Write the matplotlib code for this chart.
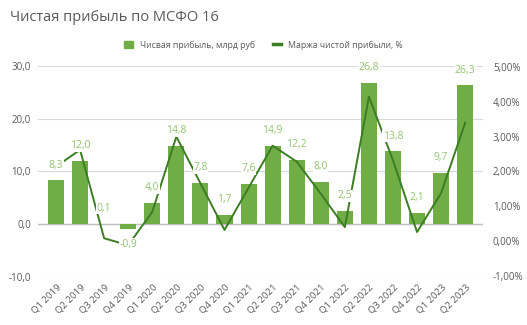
import numpy as np
import matplotlib.pyplot as plt
from matplotlib.ticker import FuncFormatter, MultipleLocator
from matplotlib.patches import Patch
from matplotlib.lines import Line2D

plt.rcParams['font.family'] = ['Open Sans', 'DejaVu Sans']

quarters = ['Q1 2019', 'Q2 2019', 'Q3 2019', 'Q4 2019', 'Q1 2020', 'Q2 2020',
            'Q3 2020', 'Q4 2020', 'Q1 2021', 'Q2 2021', 'Q3 2021', 'Q4 2021',
            'Q1 2022', 'Q2 2022', 'Q3 2022', 'Q4 2022', 'Q1 2023', 'Q2 2023']
net_profit = [8.3, 12.0, 0.1, -0.9, 4.0, 14.8, 7.8, 1.7, 7.6, 14.9, 12.2, 8.0,
              2.5, 26.8, 13.8, 2.1, 9.7, 26.3]
net_margin = [2.14, 2.62, 0.08, -0.12, 0.84, 3.0, 1.66, 0.32, 1.53, 2.74, 2.28, 1.36,
              0.40, 4.15, 2.32, 0.26, 1.38, 3.40]

bar_color = '#70ad47'
label_color = '#92c46f'
line_color = '#3b7d23'
text_color = '#595959'

fig = plt.figure(figsize=(5.27, 3.25), dpi=100)
ax = fig.add_axes([0.072, 0.148, 0.845, 0.649])
ax2 = ax.twinx()

x = np.arange(len(quarters))
ax.bar(x, net_profit, width=0.67, color=bar_color, zorder=2)
ax2.plot(x, net_margin, color=line_color, linewidth=1.4, zorder=3)

# value labels sit on a white box, so they hide the line and gridlines behind them
for xi, v in zip(x, net_profit):
    off = 7 if v >= 0 else -7
    ax2.annotate(('%.1f' % v).replace('.', ','), xy=(xi, v), xycoords=ax.transData,
                 xytext=(0, off), textcoords='offset points', ha='center',
                 va='bottom' if v >= 0 else 'top', fontsize=7.5, color=label_color,
                 bbox=dict(boxstyle='square,pad=0.05', fc='white', ec='none'),
                 zorder=5)

ax.set_xlim(-0.75, len(quarters) - 0.25)
ax.set_ylim(-10, 30)
ax.yaxis.set_major_locator(MultipleLocator(10))
ax.yaxis.set_major_formatter(FuncFormatter(lambda v, p: ('%.1f' % v).replace('.', ',')))
ax.grid(axis='y', color='#d9d9d9', linewidth=0.8, zorder=0)
ax.axhline(0, color='#bfbfbf', linewidth=1.0, zorder=1)
ax.set_axisbelow(True)

ax2.set_ylim(-1.03, 5.03)
ax2.yaxis.set_major_locator(MultipleLocator(1))
ax2.yaxis.set_major_formatter(FuncFormatter(lambda v, p: ('%.2f%%' % v).replace('.', ',')))

ax.set_xticks(x)
ax.set_xticklabels(quarters, rotation=45, ha='right', rotation_mode='anchor')

for a in (ax, ax2):
    for s in a.spines.values():
        s.set_visible(False)
    a.tick_params(length=0, labelsize=7, colors=text_color)
ax.tick_params(axis='x', pad=4, labelsize=6.8)
ax.tick_params(axis='y', pad=5)
ax2.tick_params(axis='y', pad=7)

fig.text(0.019, 0.945, 'Чистая прибыль по МСФО 16', fontsize=10.5, color='#595959',
         va='center')

handles = [Patch(color=bar_color), Line2D([0], [0], color=line_color, linewidth=2.5)]
fig.legend(handles, ['Чисвая прибыль, млрд руб', 'Маржа чистой прибыли, %'],
           loc='center', bbox_to_anchor=(0.5, 0.862), ncol=2, frameon=False,
           fontsize=6.3, handlelength=1.0, handleheight=1.0, columnspacing=2.0,
           labelcolor=text_color)

fig.savefig('out.png', dpi=100)
